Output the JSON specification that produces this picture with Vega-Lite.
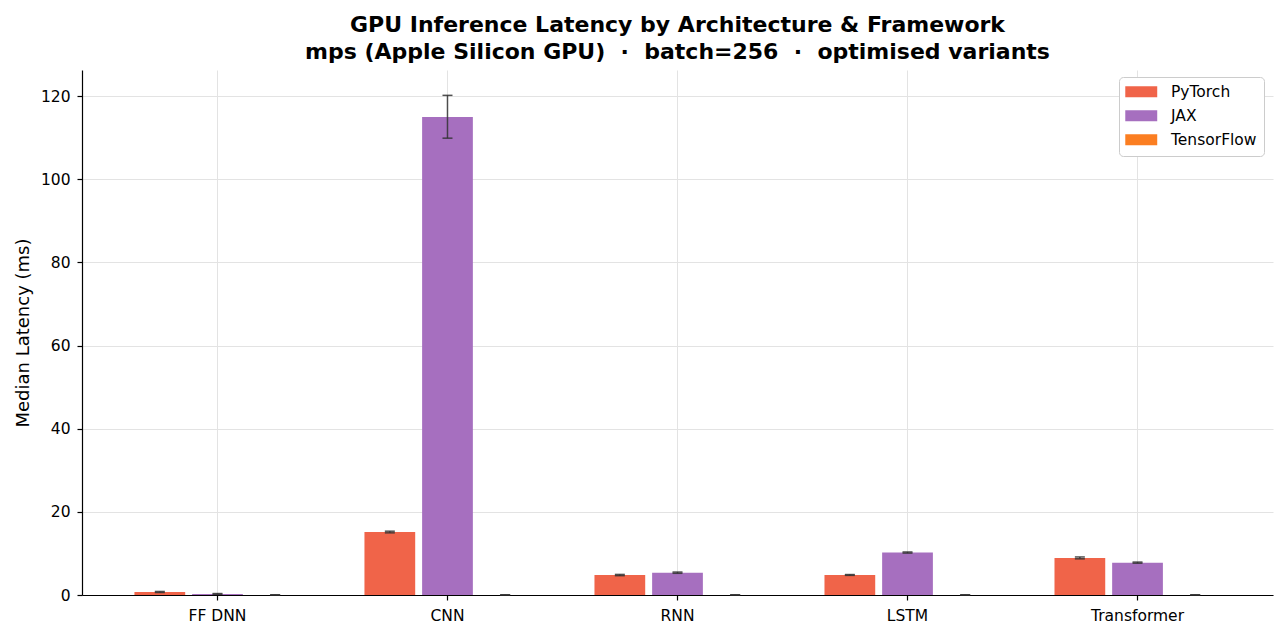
{
  "$schema": "https://vega.github.io/schema/vega-lite/v6.json",
  "width": 1191,
  "height": 525,
  "autosize": {"type": "none"},
  "padding": {"left": 82, "top": 70, "right": 14, "bottom": 42},
  "background": "white",
  "config": {
    "font": "DejaVu Sans",
    "view": {"stroke": null},
    "axis": {
      "labelFont": "DejaVu Sans",
      "titleFont": "DejaVu Sans",
      "labelFontSize": 15.5,
      "titleFontSize": 18,
      "titleFontWeight": "normal",
      "labelColor": "#000",
      "titleColor": "#000",
      "domainColor": "#000",
      "domainWidth": 1.2,
      "tickColor": "#000",
      "tickSize": 5,
      "tickWidth": 1.2,
      "gridColor": "#e3e3e3",
      "gridWidth": 1
    }
  },
  "title": {
    "text": ["GPU Inference Latency by Architecture & Framework", "mps (Apple Silicon GPU)\u00a0\u00a0·\u00a0\u00a0batch=256\u00a0\u00a0·\u00a0\u00a0optimised variants"],
    "font": "DejaVu Sans",
    "fontSize": 22,
    "fontWeight": "bold",
    "lineHeight": 27,
    "anchor": "middle",
    "offset": 6,
    "color": "#000"
  },
  "data": {
    "values": [
      {"arch": "FF DNN", "fw": "PyTorch", "median": 0.72, "lo": 0.6, "hi": 0.85},
      {"arch": "FF DNN", "fw": "JAX", "median": 0.25, "lo": 0.15, "hi": 0.35},
      {"arch": "FF DNN", "fw": "TensorFlow", "median": 0.03, "lo": 0.0, "hi": 0.06},
      {"arch": "CNN", "fw": "PyTorch", "median": 15.15, "lo": 14.95, "hi": 15.35},
      {"arch": "CNN", "fw": "JAX", "median": 115.0, "lo": 109.9, "hi": 120.2},
      {"arch": "CNN", "fw": "TensorFlow", "median": 0.03, "lo": 0.0, "hi": 0.06},
      {"arch": "RNN", "fw": "PyTorch", "median": 4.8, "lo": 4.65, "hi": 4.95},
      {"arch": "RNN", "fw": "JAX", "median": 5.37, "lo": 5.22, "hi": 5.52},
      {"arch": "RNN", "fw": "TensorFlow", "median": 0.03, "lo": 0.0, "hi": 0.06},
      {"arch": "LSTM", "fw": "PyTorch", "median": 4.82, "lo": 4.72, "hi": 4.92},
      {"arch": "LSTM", "fw": "JAX", "median": 10.2, "lo": 10.08, "hi": 10.35},
      {"arch": "LSTM", "fw": "TensorFlow", "median": 0.03, "lo": 0.0, "hi": 0.06},
      {"arch": "Transformer", "fw": "PyTorch", "median": 8.9, "lo": 8.7, "hi": 9.15},
      {"arch": "Transformer", "fw": "JAX", "median": 7.78, "lo": 7.65, "hi": 7.92},
      {"arch": "Transformer", "fw": "TensorFlow", "median": 0.03, "lo": 0.0, "hi": 0.06}
    ]
  },
  "encoding": {
    "x": {
      "field": "arch",
      "type": "nominal",
      "sort": ["FF DNN", "CNN", "RNN", "LSTM", "Transformer"],
      "scale": {"paddingInner": 0.278, "paddingOuter": 0.228},
      "axis": {"title": null, "labelAngle": 0, "bandPosition": 0.5, "grid": true, "labelPadding": 8}
    },
    "xOffset": {
      "field": "fw",
      "type": "nominal",
      "sort": ["PyTorch", "JAX", "TensorFlow"],
      "scale": {"paddingInner": 0.12, "paddingOuter": 0}
    }
  },
  "layer": [
    {
      "mark": {"type": "bar", "opacity": 1},
      "encoding": {
        "y": {
          "field": "median",
          "type": "quantitative",
          "scale": {"domain": [0, 126.3], "nice": false},
          "axis": {"title": "Median Latency (ms)", "values": [0, 20, 40, 60, 80, 100, 120], "grid": true, "labelPadding": 7, "titlePadding": 8}
        },
        "color": {
          "field": "fw",
          "type": "nominal",
          "sort": ["PyTorch", "JAX", "TensorFlow"],
          "scale": {"domain": ["PyTorch", "JAX", "TensorFlow"], "range": ["#F06449", "#A66FBF", "#FB7E21"]},
          "legend": {
            "title": null,
            "orient": "none",
            "legendX": 1037,
            "legendY": 7,
            "symbolType": "M-2.13,-0.73H2.13V0.73H-2.13Z",
            "symbolSize": 225,
            "symbolOffset": 7.5,
            "symbolStrokeWidth": 0,
            "symbolOpacity": 1,
            "labelFont": "DejaVu Sans",
            "labelFontSize": 15.5,
            "labelColor": "#000",
            "labelOffset": 22,
            "rowPadding": 7,
            "padding": 7,
            "strokeColor": "#cccccc",
            "fillColor": "white",
            "cornerRadius": 4
          }
        }
      }
    },
    {
      "mark": {"type": "rule", "color": "#333333", "opacity": 0.85, "strokeWidth": 1.5},
      "encoding": {
        "y": {"field": "lo", "type": "quantitative"},
        "y2": {"field": "hi"}
      }
    },
    {
      "mark": {"type": "tick", "color": "#333333", "opacity": 0.85, "size": 10, "thickness": 1.5},
      "encoding": {
        "y": {"field": "lo", "type": "quantitative"}
      }
    },
    {
      "mark": {"type": "tick", "color": "#333333", "opacity": 0.85, "size": 10, "thickness": 1.5},
      "encoding": {
        "y": {"field": "hi", "type": "quantitative"}
      }
    }
  ]
}
